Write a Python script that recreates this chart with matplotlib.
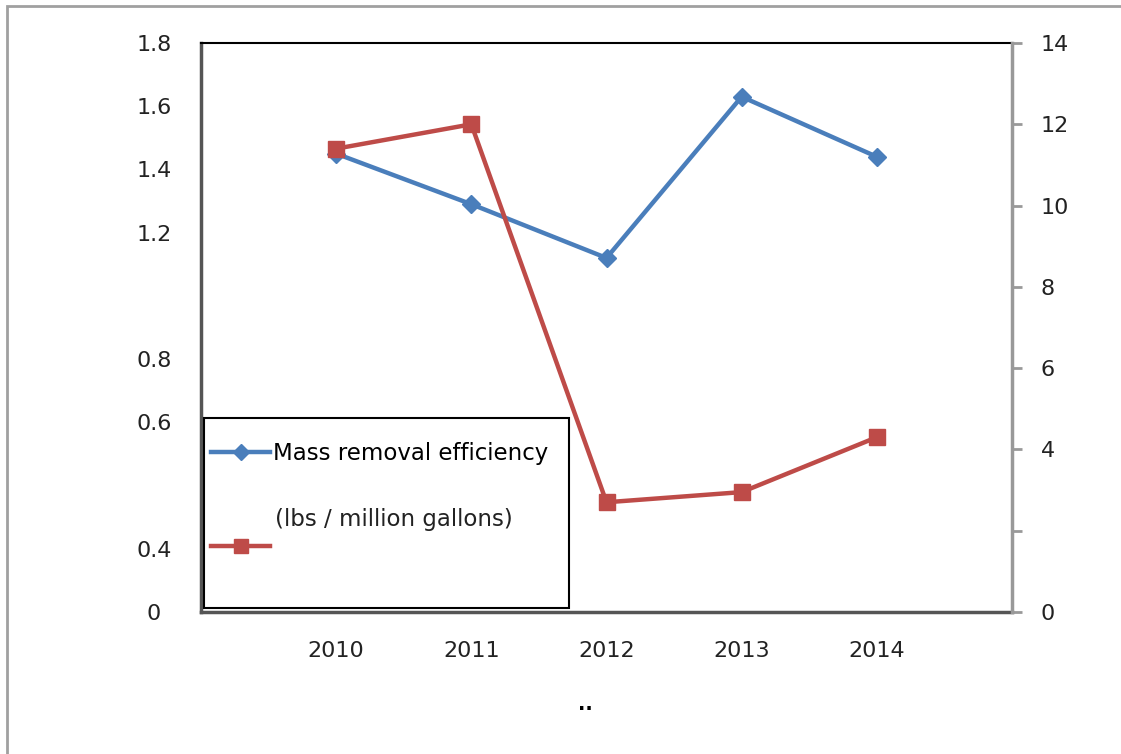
import matplotlib
matplotlib.use("Agg")
import matplotlib.pyplot as plt
from matplotlib.patches import Rectangle

years = [2010, 2011, 2012, 2013, 2014]
efficiency = [1.45, 1.29, 1.12, 1.63, 1.44]
second_series = [11.4, 12.0, 2.7, 2.95, 4.3]

left_ticks = [0, 0.2, 0.6, 0.8, 1.2, 1.4, 1.6, 1.8]
left_labels = ['0', '0.4', '0.6', '0.8', '1.2', '1.4', '1.6', '1.8']
right_ticks = [0, 2, 4, 6, 8, 10, 12, 14]
right_labels = ['0', '', '4', '6', '8', '10', '12', '14']

BLUE = '#4a7ebb'
RED = '#be4b48'
FS = 16
LEG_FS = 16.5

fig = plt.figure(figsize=(11.21, 7.54), dpi=100)
ax = fig.add_axes([201 / 1121, 1 - 612 / 754, 811 / 1121, 569 / 754])
ax2 = ax.twinx()

l1, = ax.plot(years, efficiency, color=BLUE, lw=3.2, marker='D', ms=9,
              markeredgecolor=BLUE)
l2, = ax2.plot(years, second_series, color=RED, lw=3.2, marker='s', ms=12,
               markeredgecolor=RED)

ax.set_xlim(2009, 2015)
ax.set_ylim(0, 1.8)
ax2.set_ylim(0, 14)

ax.set_xticks(years, [str(y) for y in years])
ax.set_yticks(left_ticks, left_labels)
ax2.set_yticks(right_ticks, right_labels)

ax.tick_params(axis='x', length=0, pad=21, labelsize=FS, labelcolor='#222222')
ax.tick_params(axis='y', length=0, pad=34, labelsize=FS, labelcolor='#222222')
for lab in ax.get_yticklabels():
    lab.set_horizontalalignment('center')
ax2.tick_params(axis='y', length=7.5, width=2, color='#999999', pad=13,
                labelsize=FS, labelcolor='#222222')

ax.spines['left'].set_color('#555555')
ax.spines['left'].set_linewidth(2.5)
ax.spines['bottom'].set_color('#555555')
ax.spines['bottom'].set_linewidth(2.5)
ax.spines['top'].set_color('black')
ax.spines['top'].set_linewidth(1.5)
ax.spines['right'].set_visible(False)
ax2.spines['left'].set_visible(False)
ax2.spines['bottom'].set_visible(False)
ax2.spines['top'].set_visible(False)
ax2.spines['right'].set_color('#999999')
ax2.spines['right'].set_linewidth(2.5)

# legend box (drawn like the original, with the unit text under the label)
ax2.add_patch(Rectangle((0.004, 0.007), 0.450, 0.334, transform=ax2.transAxes,
                        facecolor='white', edgecolor='black', lw=1.5, zorder=4))
leg = ax2.legend([l1, l2], ['Mass removal efficiency', ' '], loc='upper left',
                 bbox_to_anchor=(0.012, 0.2987), frameon=False, fontsize=LEG_FS,
                 borderpad=0, borderaxespad=0, handlelength=2.6,
                 handletextpad=0.12, labelspacing=3.1, markerscale=0.85)
leg.set_zorder(5)
ax2.text(0.0912, 0.1617, '(lbs / million gallons)', transform=ax2.transAxes,
         fontsize=LEG_FS, va='center', ha='left', color='#222222', zorder=6)

fig.text(585 / 1121, 1 - 705 / 754, '..', fontsize=14, fontweight='bold',
         ha='center', va='center')

# outer border of the chart area
fig.add_artist(Rectangle((7 / 1121, -0.05), 1.1, 1 - 6 / 754 + 0.05,
                         transform=fig.transFigure, fill=False,
                         edgecolor='#a0a0a0', lw=2))

fig.savefig('out.png', dpi=100)
